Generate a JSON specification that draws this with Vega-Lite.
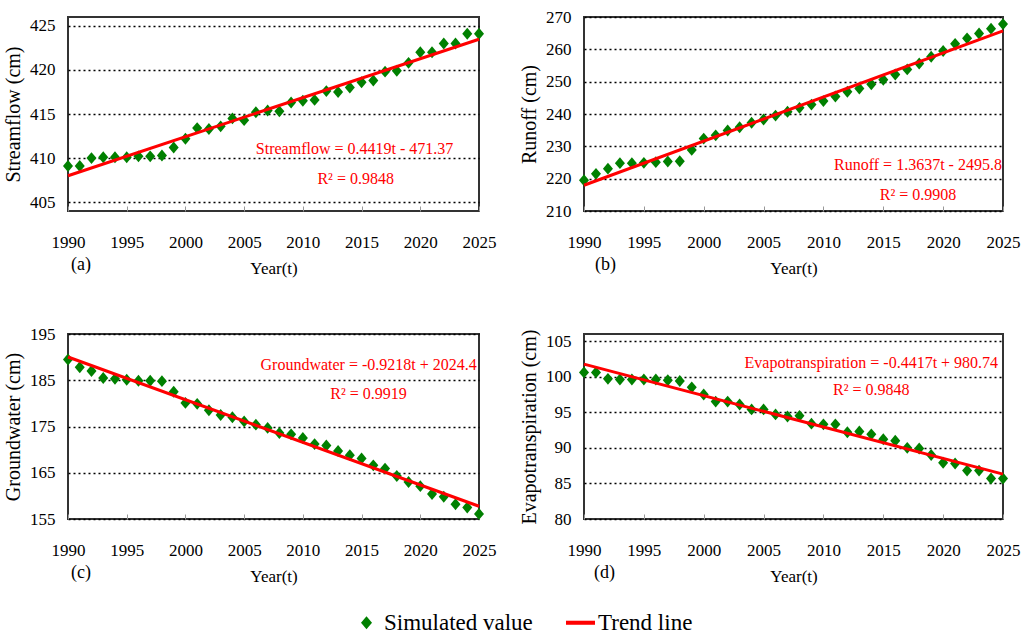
{
  "$schema": "https://vega.github.io/schema/vega-lite/v6.json",
  "background": "white",
  "padding": {"left": 2, "top": 7, "right": 2, "bottom": 2},
  "columns": 2,
  "spacing": {"row": 123, "column": 105},
  "bounds": "flush",
  "align": "each",
  "resolve": {"legend": {"color": "shared", "shape": "shared"}},
  "config": {
    "view": {"stroke": "#333333", "strokeWidth": 2},
    "font": "Times New Roman, Liberation Serif, serif",
    "style": {
      "guide-label": {"font": "Times New Roman, Liberation Serif, serif"},
      "guide-title": {"font": "Times New Roman, Liberation Serif, serif"}
    },
    "axis": {
      "labelFont": "Times New Roman, Liberation Serif, serif", "labelFontSize": 17, "labelColor": "black",
      "titleFont": "Times New Roman, Liberation Serif, serif", "titleFontWeight": "normal", "titleColor": "black",
      "domain": false, "labelOverlap": false
    },
    "axisX": {"grid": false, "tickSize": -5, "tickColor": "#999999", "tickWidth": 1, "labelPadding": 28, "titlePadding": 10, "titleFontSize": 17, "format": "d", "labelFlush": false, "tickCount": 20},
    "axisY": {"grid": true, "gridColor": "black", "gridDash": [2, 3], "gridWidth": 1.5, "ticks": false, "labelPadding": 13, "titleFontSize": 20, "titlePadding": 6, "tickCount": 20},
    "title": {"font": "Times New Roman, Liberation Serif, serif", "fontSize": 18, "fontWeight": "normal", "color": "black", "orient": "bottom", "anchor": "start", "frame": "group", "offset": -20},
    "legend": {"orient": "none", "legendX": 284, "legendY": 591, "direction": "horizontal", "labelFont": "Times New Roman, Liberation Serif, serif", "labelFontSize": 23, "labelColor": "black", "labelOffset": 3, "columnPadding": 33, "symbolSize": 841, "symbolStrokeWidth": 0, "symbolOpacity": 1, "title": null, "labelLimit": 400}
  },
  "concat": [
    {
      "width": 411, "height": 194,
      "title": {"text": "(a)", "dx": 3},
      "layer": [
        {
          "data": {"values": [
            {"year": 1990, "value": 409.1}, {"year": 1991, "value": 409.1}, {"year": 1992, "value": 410.0}, {"year": 1993, "value": 410.1},
            {"year": 1994, "value": 410.1}, {"year": 1995, "value": 410.1}, {"year": 1996, "value": 410.2}, {"year": 1997, "value": 410.2},
            {"year": 1998, "value": 410.3}, {"year": 1999, "value": 411.2}, {"year": 2000, "value": 412.2}, {"year": 2001, "value": 413.4},
            {"year": 2002, "value": 413.3}, {"year": 2003, "value": 413.6}, {"year": 2004, "value": 414.5}, {"year": 2005, "value": 414.3},
            {"year": 2006, "value": 415.2}, {"year": 2007, "value": 415.4}, {"year": 2008, "value": 415.3}, {"year": 2009, "value": 416.3},
            {"year": 2010, "value": 416.5}, {"year": 2011, "value": 416.6}, {"year": 2012, "value": 417.6}, {"year": 2013, "value": 417.5},
            {"year": 2014, "value": 418.0}, {"year": 2015, "value": 418.6}, {"year": 2016, "value": 418.8}, {"year": 2017, "value": 419.8},
            {"year": 2018, "value": 419.9}, {"year": 2019, "value": 420.8}, {"year": 2020, "value": 422.0}, {"year": 2021, "value": 422.0},
            {"year": 2022, "value": 423.0}, {"year": 2023, "value": 423.0}, {"year": 2024, "value": 424.1}, {"year": 2025, "value": 424.1}
          ]},
          "mark": {"type": "point", "filled": true, "opacity": 1, "size": 697, "strokeWidth": 0},
          "encoding": {
            "x": {"field": "year", "type": "quantitative", "scale": {"domain": [1990, 2025]}, "axis": {"values": [1990, 1995, 2000, 2005, 2010, 2015, 2020, 2025], "title": "Year(t)"}},
            "y": {"field": "value", "type": "quantitative", "scale": {"domain": [405, 425]}, "axis": {"values": [405, 410, 415, 420, 425], "title": "Streamflow (cm)"}},
            "color": {"datum": "Simulated value", "type": "nominal", "scale": {"domain": ["Simulated value", "Trend line"], "range": ["#008000", "#FF0000"]}, "legend": {"labelFont": "Times New Roman, Liberation Serif, serif", "encode": {"labels": {"update": {"font": {"value": "Times New Roman, Liberation Serif, serif"}}}}}},
            "shape": {"datum": "Simulated value", "type": "nominal", "scale": {"domain": ["Simulated value", "Trend line"], "range": ["M0,-0.45L0.38,0L0,0.45L-0.38,0Z", "M-1,-0.14H1V0.14H-1Z"]}, "legend": {"labelFont": "Times New Roman, Liberation Serif, serif", "encode": {"labels": {"update": {"font": {"value": "Times New Roman, Liberation Serif, serif"}}}}}}
          }
        },
        {
          "data": {"values": [{"year": 1990, "trend": 408.0}, {"year": 2025, "trend": 423.48}]},
          "mark": {"type": "line", "color": "#FF0000", "strokeWidth": 3},
          "encoding": {"x": {"field": "year", "type": "quantitative"}, "y": {"field": "trend", "type": "quantitative"}}
        },
        {
          "data": {"values": [{}]},
          "mark": {"type": "text", "fontSize": 16, "color": "#FF0000", "align": "center", "baseline": "middle"},
          "encoding": {"x": {"datum": 2014.4}, "y": {"datum": 411.0}, "text": {"value": "Streamflow = 0.4419t - 471.37"}}
        },
        {
          "data": {"values": [{}]},
          "mark": {"type": "text", "fontSize": 16, "color": "#FF0000", "align": "center", "baseline": "middle"},
          "encoding": {"x": {"datum": 2014.5}, "y": {"datum": 407.6}, "text": {"value": "R² = 0.9848"}}
        }
      ]
    },
    {
      "width": 419, "height": 194,
      "title": {"text": "(b)", "dx": 11},
      "layer": [
        {
          "data": {"values": [
            {"year": 1990, "value": 219.5}, {"year": 1991, "value": 221.5}, {"year": 1992, "value": 223.1}, {"year": 1993, "value": 224.8},
            {"year": 1994, "value": 224.8}, {"year": 1995, "value": 224.9}, {"year": 1996, "value": 225.1}, {"year": 1997, "value": 225.3},
            {"year": 1998, "value": 225.4}, {"year": 1999, "value": 228.9}, {"year": 2000, "value": 232.4}, {"year": 2001, "value": 233.4},
            {"year": 2002, "value": 234.9}, {"year": 2003, "value": 235.9}, {"year": 2004, "value": 237.3}, {"year": 2005, "value": 238.3},
            {"year": 2006, "value": 239.5}, {"year": 2007, "value": 240.7}, {"year": 2008, "value": 241.9}, {"year": 2009, "value": 242.9},
            {"year": 2010, "value": 244.0}, {"year": 2011, "value": 245.4}, {"year": 2012, "value": 246.9}, {"year": 2013, "value": 247.9},
            {"year": 2014, "value": 249.2}, {"year": 2015, "value": 250.6}, {"year": 2016, "value": 252.2}, {"year": 2017, "value": 253.8},
            {"year": 2018, "value": 255.6}, {"year": 2019, "value": 257.7}, {"year": 2020, "value": 259.5}, {"year": 2021, "value": 261.7},
            {"year": 2022, "value": 263.4}, {"year": 2023, "value": 264.9}, {"year": 2024, "value": 266.4}, {"year": 2025, "value": 267.8}
          ]},
          "mark": {"type": "point", "filled": true, "opacity": 1, "size": 697, "strokeWidth": 0},
          "encoding": {
            "x": {"field": "year", "type": "quantitative", "scale": {"domain": [1990, 2025]}, "axis": {"values": [1990, 1995, 2000, 2005, 2010, 2015, 2020, 2025], "title": "Year(t)"}},
            "y": {"field": "value", "type": "quantitative", "scale": {"domain": [210, 270]}, "axis": {"values": [210, 220, 230, 240, 250, 260, 270], "title": "Runoff (cm)"}},
            "color": {"datum": "Simulated value", "type": "nominal", "scale": {"domain": ["Simulated value", "Trend line"], "range": ["#008000", "#FF0000"]}, "legend": {"labelFont": "Times New Roman, Liberation Serif, serif", "encode": {"labels": {"update": {"font": {"value": "Times New Roman, Liberation Serif, serif"}}}}}},
            "shape": {"datum": "Simulated value", "type": "nominal", "scale": {"domain": ["Simulated value", "Trend line"], "range": ["M0,-0.45L0.38,0L0,0.45L-0.38,0Z", "M-1,-0.14H1V0.14H-1Z"]}, "legend": {"labelFont": "Times New Roman, Liberation Serif, serif", "encode": {"labels": {"update": {"font": {"value": "Times New Roman, Liberation Serif, serif"}}}}}}
          }
        },
        {
          "data": {"values": [{"year": 1990, "trend": 217.96}, {"year": 2025, "trend": 265.69}]},
          "mark": {"type": "line", "color": "#FF0000", "strokeWidth": 3},
          "encoding": {"x": {"field": "year", "type": "quantitative"}, "y": {"field": "trend", "type": "quantitative"}}
        },
        {
          "data": {"values": [{}]},
          "mark": {"type": "text", "fontSize": 16, "color": "#FF0000", "align": "center", "baseline": "middle"},
          "encoding": {"x": {"datum": 2017.9}, "y": {"datum": 224.3}, "text": {"value": "Runoff = 1.3637t - 2495.8"}}
        },
        {
          "data": {"values": [{}]},
          "mark": {"type": "text", "fontSize": 16, "color": "#FF0000", "align": "center", "baseline": "middle"},
          "encoding": {"x": {"datum": 2017.9}, "y": {"datum": 215.1}, "text": {"value": "R² = 0.9908"}}
        }
      ]
    },
    {
      "width": 411, "height": 185,
      "title": {"text": "(c)", "dx": 3},
      "layer": [
        {
          "data": {"values": [
            {"year": 1990, "value": 189.5}, {"year": 1991, "value": 187.8}, {"year": 1992, "value": 187.0}, {"year": 1993, "value": 185.5},
            {"year": 1994, "value": 185.3}, {"year": 1995, "value": 185.1}, {"year": 1996, "value": 184.9}, {"year": 1997, "value": 184.9},
            {"year": 1998, "value": 184.8}, {"year": 1999, "value": 182.5}, {"year": 2000, "value": 180.1}, {"year": 2001, "value": 179.9},
            {"year": 2002, "value": 178.5}, {"year": 2003, "value": 177.5}, {"year": 2004, "value": 177.0}, {"year": 2005, "value": 176.1},
            {"year": 2006, "value": 175.4}, {"year": 2007, "value": 174.7}, {"year": 2008, "value": 173.6}, {"year": 2009, "value": 173.3},
            {"year": 2010, "value": 172.5}, {"year": 2011, "value": 171.2}, {"year": 2012, "value": 170.9}, {"year": 2013, "value": 169.7},
            {"year": 2014, "value": 168.8}, {"year": 2015, "value": 168.1}, {"year": 2016, "value": 166.6}, {"year": 2017, "value": 165.9},
            {"year": 2018, "value": 164.3}, {"year": 2019, "value": 163.0}, {"year": 2020, "value": 162.1}, {"year": 2021, "value": 160.4},
            {"year": 2022, "value": 159.8}, {"year": 2023, "value": 158.2}, {"year": 2024, "value": 157.5}, {"year": 2025, "value": 156.1}
          ]},
          "mark": {"type": "point", "filled": true, "opacity": 1, "size": 697, "strokeWidth": 0},
          "encoding": {
            "x": {"field": "year", "type": "quantitative", "scale": {"domain": [1990, 2025]}, "axis": {"values": [1990, 1995, 2000, 2005, 2010, 2015, 2020, 2025], "title": "Year(t)"}},
            "y": {"field": "value", "type": "quantitative", "scale": {"domain": [155, 195]}, "axis": {"values": [155, 165, 175, 185, 195], "title": "Groundwater (cm)"}},
            "color": {"datum": "Simulated value", "type": "nominal", "scale": {"domain": ["Simulated value", "Trend line"], "range": ["#008000", "#FF0000"]}, "legend": {"labelFont": "Times New Roman, Liberation Serif, serif", "encode": {"labels": {"update": {"font": {"value": "Times New Roman, Liberation Serif, serif"}}}}}},
            "shape": {"datum": "Simulated value", "type": "nominal", "scale": {"domain": ["Simulated value", "Trend line"], "range": ["M0,-0.45L0.38,0L0,0.45L-0.38,0Z", "M-1,-0.14H1V0.14H-1Z"]}, "legend": {"labelFont": "Times New Roman, Liberation Serif, serif", "encode": {"labels": {"update": {"font": {"value": "Times New Roman, Liberation Serif, serif"}}}}}}
          }
        },
        {
          "data": {"values": [{"year": 1990, "trend": 190.02}, {"year": 2025, "trend": 157.75}]},
          "mark": {"type": "line", "color": "#FF0000", "strokeWidth": 3},
          "encoding": {"x": {"field": "year", "type": "quantitative"}, "y": {"field": "trend", "type": "quantitative"}}
        },
        {
          "data": {"values": [{}]},
          "mark": {"type": "text", "fontSize": 16, "color": "#FF0000", "align": "center", "baseline": "middle"},
          "encoding": {"x": {"datum": 2015.6}, "y": {"datum": 188.2}, "text": {"value": "Groundwater = -0.9218t + 2024.4"}}
        },
        {
          "data": {"values": [{}]},
          "mark": {"type": "text", "fontSize": 16, "color": "#FF0000", "align": "center", "baseline": "middle"},
          "encoding": {"x": {"datum": 2015.6}, "y": {"datum": 182.0}, "text": {"value": "R² = 0.9919"}}
        }
      ]
    },
    {
      "width": 419, "height": 185,
      "title": {"text": "(d)", "dx": 10},
      "layer": [
        {
          "data": {"values": [
            {"year": 1990, "value": 100.6}, {"year": 1991, "value": 100.6}, {"year": 1992, "value": 99.7}, {"year": 1993, "value": 99.6},
            {"year": 1994, "value": 99.6}, {"year": 1995, "value": 99.6}, {"year": 1996, "value": 99.6}, {"year": 1997, "value": 99.5},
            {"year": 1998, "value": 99.4}, {"year": 1999, "value": 98.5}, {"year": 2000, "value": 97.5}, {"year": 2001, "value": 96.5},
            {"year": 2002, "value": 96.5}, {"year": 2003, "value": 96.1}, {"year": 2004, "value": 95.4}, {"year": 2005, "value": 95.4},
            {"year": 2006, "value": 94.7}, {"year": 2007, "value": 94.4}, {"year": 2008, "value": 94.5}, {"year": 2009, "value": 93.4},
            {"year": 2010, "value": 93.3}, {"year": 2011, "value": 93.3}, {"year": 2012, "value": 92.2}, {"year": 2013, "value": 92.3},
            {"year": 2014, "value": 91.9}, {"year": 2015, "value": 91.2}, {"year": 2016, "value": 91.0}, {"year": 2017, "value": 90.0},
            {"year": 2018, "value": 89.9}, {"year": 2019, "value": 89.0}, {"year": 2020, "value": 87.9}, {"year": 2021, "value": 87.8},
            {"year": 2022, "value": 86.8}, {"year": 2023, "value": 86.8}, {"year": 2024, "value": 85.7}, {"year": 2025, "value": 85.7}
          ]},
          "mark": {"type": "point", "filled": true, "opacity": 1, "size": 697, "strokeWidth": 0},
          "encoding": {
            "x": {"field": "year", "type": "quantitative", "scale": {"domain": [1990, 2025]}, "axis": {"values": [1990, 1995, 2000, 2005, 2010, 2015, 2020, 2025], "title": "Year(t)"}},
            "y": {"field": "value", "type": "quantitative", "scale": {"domain": [80, 105]}, "axis": {"values": [80, 85, 90, 95, 100, 105], "title": "Evapotranspiration (cm)"}},
            "color": {"datum": "Simulated value", "type": "nominal", "scale": {"domain": ["Simulated value", "Trend line"], "range": ["#008000", "#FF0000"]}, "legend": {"labelFont": "Times New Roman, Liberation Serif, serif", "encode": {"labels": {"update": {"font": {"value": "Times New Roman, Liberation Serif, serif"}}}}}},
            "shape": {"datum": "Simulated value", "type": "nominal", "scale": {"domain": ["Simulated value", "Trend line"], "range": ["M0,-0.45L0.38,0L0,0.45L-0.38,0Z", "M-1,-0.14H1V0.14H-1Z"]}, "legend": {"labelFont": "Times New Roman, Liberation Serif, serif", "encode": {"labels": {"update": {"font": {"value": "Times New Roman, Liberation Serif, serif"}}}}}}
          }
        },
        {
          "data": {"values": [{"year": 1990, "trend": 101.76}, {"year": 2025, "trend": 86.30}]},
          "mark": {"type": "line", "color": "#FF0000", "strokeWidth": 3},
          "encoding": {"x": {"field": "year", "type": "quantitative"}, "y": {"field": "trend", "type": "quantitative"}}
        },
        {
          "data": {"values": [{}]},
          "mark": {"type": "text", "fontSize": 16, "color": "#FF0000", "align": "center", "baseline": "middle"},
          "encoding": {"x": {"datum": 2014.0}, "y": {"datum": 101.96}, "text": {"value": "Evapotranspiration = -0.4417t + 980.74"}}
        },
        {
          "data": {"values": [{}]},
          "mark": {"type": "text", "fontSize": 16, "color": "#FF0000", "align": "center", "baseline": "middle"},
          "encoding": {"x": {"datum": 2014.0}, "y": {"datum": 98.06}, "text": {"value": "R² = 0.9848"}}
        }
      ]
    }
  ]
}
